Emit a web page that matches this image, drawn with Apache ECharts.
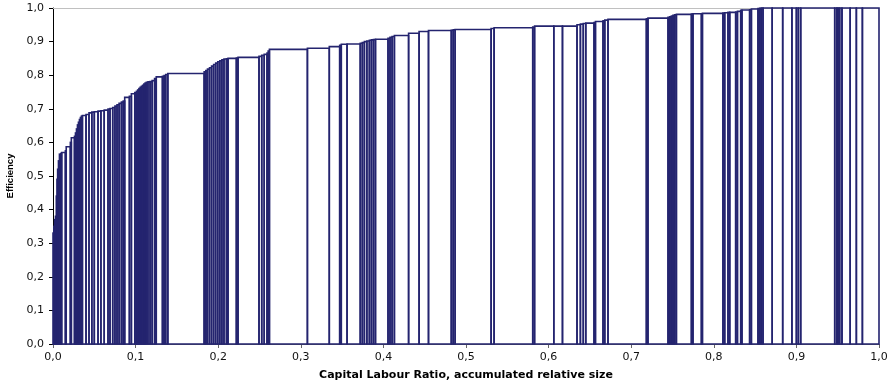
<!DOCTYPE html>
<html>
<head>
<meta charset="utf-8">
<script src="https://cdn.jsdelivr.net/npm/echarts@6/dist/echarts.min.js"></script>
<style>
  html, body { margin: 0; padding: 0; background: #fff; }
  #chart { width: 891px; height: 385px; }
</style>
</head>
<body>
<div id="chart"></div>
<script>
// Firms sorted by efficiency; each firm occupies a band on the x axis whose
// width is its share of capital; unitEnd is the cumulative share at its right edge.
const unitEnd = [
  0.0010, 0.0020, 0.0030, 0.0040, 0.0048, 0.0056, 0.0066, 0.0078, 0.0095, 0.0105,
  0.0150, 0.0160, 0.0210, 0.0222, 0.0260, 0.0272, 0.0284, 0.0296, 0.0308, 0.0320,
  0.0332, 0.0344, 0.0356, 0.0400, 0.0436, 0.0470, 0.0500, 0.0545, 0.0580, 0.0620,
  0.0666, 0.0690, 0.0723, 0.0750, 0.0775, 0.0800, 0.0828, 0.0850, 0.0868, 0.0925,
  0.0949, 0.0990, 0.1010, 0.1025, 0.1040, 0.1055, 0.1070, 0.1085, 0.1100, 0.1115,
  0.1130, 0.1150, 0.1175, 0.1200, 0.1230, 0.1250, 0.1325, 0.1345, 0.1365, 0.1390,
  0.1830, 0.1850, 0.1870, 0.1895, 0.1920, 0.1945, 0.1970, 0.1995, 0.2020, 0.2045,
  0.2070, 0.2100, 0.2119, 0.2220, 0.2240, 0.2494, 0.2527, 0.2557, 0.2591, 0.2605,
  0.2620, 0.3080, 0.3345, 0.3471, 0.3490, 0.3560, 0.3720, 0.3745, 0.3770, 0.3800,
  0.3830, 0.3855, 0.3880, 0.3904, 0.4056, 0.4080, 0.4105, 0.4133, 0.4305, 0.4432,
  0.4546, 0.4822, 0.4845, 0.4868, 0.5304, 0.5340, 0.5808, 0.5830, 0.6063, 0.6168,
  0.6344, 0.6385, 0.6420, 0.6450, 0.6550, 0.6567, 0.6659, 0.6680, 0.6719, 0.7184,
  0.7203, 0.7446, 0.7466, 0.7486, 0.7506, 0.7526, 0.7547, 0.7729, 0.7748, 0.7850,
  0.7862, 0.8111, 0.8132, 0.8172, 0.8193, 0.8265, 0.8286, 0.8326, 0.8341, 0.8434,
  0.8455, 0.8535, 0.8555, 0.8575, 0.8596, 0.8707, 0.8834, 0.8946, 0.9000, 0.9024,
  0.9052, 0.9464, 0.9489, 0.9504, 0.9524, 0.9552, 0.9651, 0.9726, 0.9799, 1.0000
];

const efficiency = [
  0.330, 0.350, 0.370, 0.380, 0.440, 0.490, 0.520, 0.545, 0.565, 0.567,
  0.570, 0.575, 0.587, 0.600, 0.614, 0.618, 0.628, 0.640, 0.652, 0.660,
  0.668, 0.674, 0.678, 0.680, 0.683, 0.688, 0.690, 0.691, 0.693, 0.694,
  0.696, 0.699, 0.701, 0.704, 0.708, 0.712, 0.716, 0.720, 0.723, 0.734,
  0.737, 0.745, 0.748, 0.752, 0.756, 0.760, 0.764, 0.767, 0.770, 0.774,
  0.777, 0.779, 0.780, 0.781, 0.784, 0.790, 0.795, 0.797, 0.799, 0.802,
  0.805, 0.810, 0.814, 0.818, 0.822, 0.827, 0.832, 0.836, 0.840, 0.843,
  0.846, 0.848, 0.849, 0.850, 0.851, 0.853, 0.856, 0.859, 0.862, 0.866,
  0.872, 0.877, 0.880, 0.885, 0.889, 0.892, 0.893, 0.895, 0.897, 0.900,
  0.902, 0.904, 0.905, 0.906, 0.907, 0.910, 0.913, 0.915, 0.918, 0.925,
  0.930, 0.933, 0.934, 0.935, 0.936, 0.939, 0.941, 0.943, 0.946, 0.946,
  0.946, 0.950, 0.952, 0.954, 0.955, 0.957, 0.960, 0.962, 0.964, 0.966,
  0.968, 0.970, 0.972, 0.974, 0.976, 0.978, 0.980, 0.981, 0.982, 0.983,
  0.983, 0.984, 0.985, 0.986, 0.987, 0.987, 0.988, 0.990, 0.993, 0.994,
  0.995, 0.997, 0.998, 0.999, 1.000, 1.000, 1.000, 1.000, 1.000, 1.000,
  1.000, 1.000, 1.000, 1.000, 1.000, 1.000, 1.000, 1.000, 1.000, 1.000
];

const xTitle = 'Capital Labour Ratio, accumulated relative size';
const yTitle = 'Efficiency';

// [start, end, efficiency] for each firm
const bands = unitEnd.map((end, i) => [i === 0 ? 0 : unitEnd[i - 1], end, efficiency[i]]);

const NAVY = '#24246f';
const LABEL_FONT = '"DejaVu Sans", Verdana, sans-serif';
const NAME_FONT = '"Liberation Sans", Arial, sans-serif';
const comma = v => v.toFixed(1).replace('.', ',');

const chart = echarts.init(document.getElementById('chart'), null, { renderer: 'canvas' });

chart.setOption({
  animation: false,
  backgroundColor: '#fff',
  grid: { left: 53, right: 12, top: 8, bottom: 41, containLabel: false, outerBoundsMode: 'none' },
  xAxis: [{
    type: 'value', min: 0, max: 1, interval: 0.1,
    name: xTitle, nameLocation: 'middle', nameGap: 26,
    nameTextStyle: { fontFamily: LABEL_FONT, fontSize: 11, fontWeight: 'bold', color: '#000' },
    axisLine: { show: true, lineStyle: { color: '#666', width: 1 } },
    axisTick: { show: true, length: 4, lineStyle: { color: '#666' } },
    axisLabel: { formatter: comma, fontFamily: LABEL_FONT, fontSize: 11, color: '#111', margin: 8 },
    splitLine: { show: false }
  }, {
    type: 'value', min: 0, max: 1, position: 'top',
    axisLine: { show: true, onZero: false, lineStyle: { color: '#c0c0c0', width: 1 } },
    axisTick: { show: false }, axisLabel: { show: false }, splitLine: { show: false }
  }],
  yAxis: {
    type: 'value', min: 0, max: 1, interval: 0.1,
    name: yTitle, nameLocation: 'middle', nameGap: 38, nameRotate: 90,
    nameTextStyle: { fontFamily: NAME_FONT, fontSize: 9.5, fontWeight: 'bold', color: '#000' },
    axisLine: { show: true, lineStyle: { color: '#000', width: 1 } },
    axisTick: { show: true, length: 4, lineStyle: { color: '#000' } },
    axisLabel: { formatter: comma, fontFamily: LABEL_FONT, fontSize: 11, color: '#111', margin: 9 },
    splitLine: { show: false }
  },
  series: [{
    type: 'custom',
    xAxisIndex: 0,
    z: 5,
    data: bands,
    encode: { x: [0, 1], y: 2 },
    renderItem: function (params, api) {
      const topLeft = api.coord([api.value(0), api.value(2)]);
      const bottomRight = api.coord([api.value(1), 0]);
      return {
        type: 'rect',
        shape: {
          x: topLeft[0], y: topLeft[1],
          width: bottomRight[0] - topLeft[0],
          height: bottomRight[1] - topLeft[1]
        },
        style: { fill: 'none', stroke: NAVY, lineWidth: 1.6 }
      };
    }
  }]
});
</script>
</body>
</html>
